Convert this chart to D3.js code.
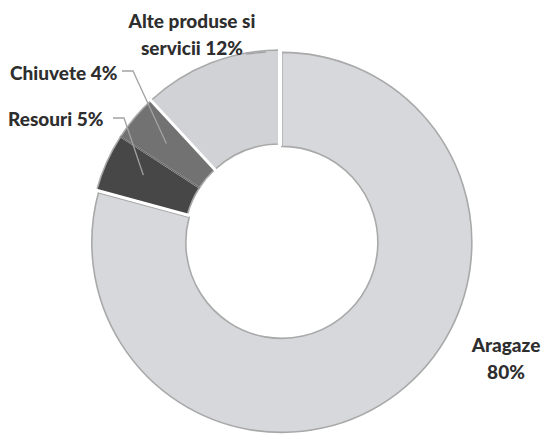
<!DOCTYPE html>
<html>
<head>
<meta charset="utf-8">
<script src="https://cdn.jsdelivr.net/npm/d3@7"></script>
<style>
  html, body { margin: 0; padding: 0; background: #fff; }
  svg { display: block; }
  text { font-family: Lato, "Open Sans", sans-serif; font-weight: 900; fill: #2e2e2e; }
</style>
</head>
<body>
<svg id="chart" width="545" height="435"></svg>
<script>
// ---- data ----
const categories = ["Aragaze", "Resouri", "Chiuvete", "Alte produse si servicii"];
const values = [80, 5, 4, 12];
const labelLines = [["Aragaze", "80%"], ["Resouri 5%"], ["Chiuvete 4%"], ["Alte produse si", "servicii 12%"]];
const colors = ["#d6d8dc", "#474747", "#727272", "#d0d2d5"];

const svg = d3.select("#chart");
const cx = 280, cy = 240, rOuter = 190, rInner = 96;
const g = svg.append("g").attr("transform", `translate(${cx},${cy})`);

const data = categories.map((c, i) => ({ name: c, value: values[i], color: colors[i], lines: labelLines[i] }));
const pie = d3.pie().value(d => d.value).sort(null).startAngle(0).endAngle(2 * Math.PI);
const arcs = pie(data);
const arc = d3.arc().innerRadius(rInner).outerRadius(rOuter);
const midArc = d3.arc().innerRadius(142).outerRadius(142);

const explode = 3;
function offset(d, i) {
  if (i !== 0) return [0, 0];
  const a = (d.startAngle + d.endAngle) / 2;
  return [explode * Math.sin(a), -explode * Math.cos(a)];
}

// slices
const slices = g.selectAll("g.slice").data(arcs).join("g")
  .attr("class", "slice")
  .attr("transform", (d, i) => { const o = offset(d, i); return `translate(${o[0]},${o[1]})`; });

slices.append("path")
  .attr("d", arc)
  .attr("fill", d => d.data.color)
  .attr("stroke", "#a9a9a9")
  .attr("stroke-width", 1.6);

// white separators between slices (except Resouri/Chiuvete which blend)
const boundaries = arcs.map(d => d.startAngle);
boundaries.forEach((a, i) => {
  if (i === 2) return;
  g.append("line")
    .attr("x1", (rInner - 2) * Math.sin(a)).attr("y1", -(rInner - 2) * Math.cos(a))
    .attr("x2", (rOuter + 3) * Math.sin(a)).attr("y2", -(rOuter + 3) * Math.cos(a))
    .attr("stroke", "#fff").attr("stroke-width", i === 0 ? 4 : 3);
});
// faint boundary between Resouri and Chiuvete
{
  const a = arcs[2].startAngle;
  g.append("line")
    .attr("x1", rInner * Math.sin(a)).attr("y1", -rInner * Math.cos(a))
    .attr("x2", rOuter * Math.sin(a)).attr("y2", -rOuter * Math.cos(a))
    .attr("stroke", "#606060").attr("stroke-width", 1);
}

// leader lines
const leaderColor = "#a3a3a3";
function leader(points) {
  svg.append("polyline")
    .attr("points", points.map(p => p.join(",")).join(" "))
    .attr("fill", "none")
    .attr("stroke", leaderColor)
    .attr("stroke-width", 1.3);
}
const cRes = midArc.centroid(arcs[1]);
const cChi = midArc.centroid(arcs[2]);
leader([[113, 118], [124, 118], [cx + cRes[0] - 7, cy + cRes[1] - 7]]);
leader([[122, 71], [133, 71], [cx + cChi[0] - 5, cy + cChi[1] - 5]]);
leader([[246, 54], [266, 52]]);

// labels
function label(lines, x, y0, anchor, lh) {
  const t = svg.append("text").attr("text-anchor", anchor).style("font-size", "19px");
  lines.forEach((s, k) => {
    t.append("tspan").attr("x", x).attr("y", y0 + k * lh).text(s);
  });
}
label(data[0].lines, 506, 352, "middle", 27);
label(data[1].lines, 8, 126, "start", 27);
label(data[2].lines, 10, 80, "start", 27);
label(data[3].lines, 192, 28, "middle", 27);
</script>
</body>
</html>
